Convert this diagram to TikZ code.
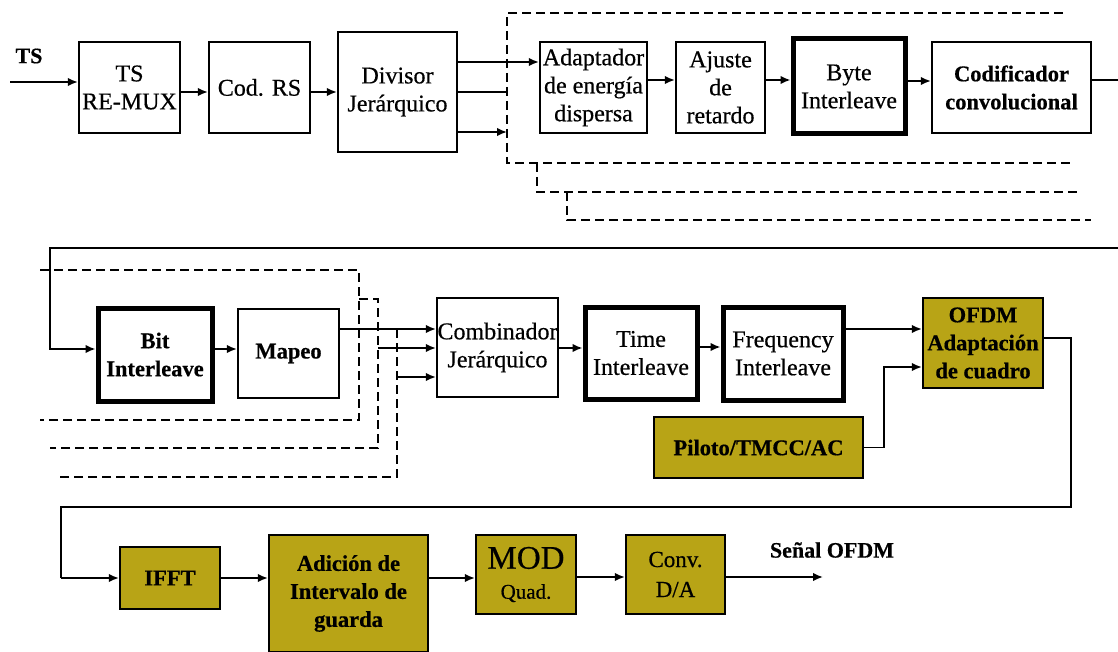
\documentclass[tikz,border=0pt]{standalone}
\usepackage{fontspec}
\setmainfont{Liberation Serif}[FakeBold=0.5]
\usetikzlibrary{arrows.meta}
\definecolor{gold}{RGB}{184,164,22}

\begin{document}
\begin{tikzpicture}[x=1pt,y=-1pt,
  box/.style={draw, line width=2.2pt, inner sep=0pt, align=center,
              font=\fontsize{24}{28}\selectfont},
  boldbox/.style={box, font=\bfseries\fontsize{22.5}{28}\selectfont},
  heavy/.style={line width=5pt},
  goldbox/.style={boldbox, fill=gold},
  conn/.style={line width=1.8pt},
  arr/.style={conn, -{Latex[length=10pt,width=8.5pt]}},
  dsh/.style={line width=2pt, dash pattern=on 9pt off 5pt},
  lbl/.style={inner sep=0pt, font=\bfseries\fontsize{22}{26}\selectfont},
]
\useasboundingbox (0,0) rectangle (1118,652);

% ---- first stage: multiplexing and outer coding
\node[lbl] (tslabel) at (29,56) {TS};
\node[box, minimum width=101pt, minimum height=91pt] (remux) at (129.5,87.5) {TS\\RE-MUX};
\node[box, minimum width=101pt, minimum height=91pt] (codrs) at (259.5,87.5) {Cod. RS};
\node[box, minimum width=119pt, minimum height=120pt] (divisor) at (397.5,92) {Divisor\\Jerárquico};

\node[box, minimum width=107pt, minimum height=91pt] (adapt) at (593.5,87.5) {Adaptador\\de energía\\dispersa};
\node[box, minimum width=89pt, minimum height=91pt] (ajuste) at (720.5,87.5) {Ajuste\\de\\retardo};
\node[box, heavy, minimum width=112pt, minimum height=95pt] (byte) at (849,86.5) {Byte\\Interleave};
\node[boldbox, minimum width=159pt, minimum height=91pt] (codconv) at (1011.5,87.5) {Codificador\\convolucional};

\coordinate (tsin) at (10,82);
\coordinate (edgeA) at (1118,80);
\coordinate (edgeB) at (1118,248);

\draw[arr] (tsin) -- (tsin -| remux.west);
\draw[arr] (remux.east |- 0,92) -- (codrs.west |- 0,92);
\draw[arr] (codrs.east |- 0,92) -- (divisor.west |- 0,92);

% hierarchical layers leaving the divider
\draw[arr] (divisor.east |- 0,62) -- (adapt.west |- 0,62);
\draw[conn] (divisor.east |- 0,92) -- (507,92);
\draw[arr] (divisor.east |- 0,132) -- (507,132);

% layer frames (dashed)
\draw[dsh] (1063,13) -- (507,13) -- (507,163) -- (1072,163);
\draw[dsh] (537,163) -- (537,192) -- (1080,192);
\draw[dsh] (567,192) -- (567,220) -- (1091,220);

\draw[arr] (adapt.east |- 0,80) -- (ajuste.west |- 0,80);
\draw[arr] (ajuste.east |- 0,80) -- (byte.west |- 0,80);
\draw[arr] (byte.east |- 0,81) -- (codconv.west |- 0,81);
\draw[conn] (codconv.east |- 0,80) -- (edgeA);

% ---- second stage: interleaving and mapping
\node[boldbox, heavy, minimum width=114pt, minimum height=93pt] (bit) at (155,354.5) {Bit\\Interleave};
\node[boldbox, minimum width=101pt, minimum height=89pt] (mapeo) at (288.5,353.5) {Mapeo};
\node[box, minimum width=121pt, minimum height=99pt] (comb) at (497.5,347.5) {Combinador\\Jerárquico};
\node[box, heavy, minimum width=112pt, minimum height=92pt] (time) at (641,353) {Time\\Interleave};
\node[box, heavy, minimum width=120pt, minimum height=93pt] (freq) at (783,353.5) {Frequency\\Interleave};
\node[goldbox, minimum width=120pt, minimum height=90pt] (ofdm) at (983,343) {OFDM\\Adaptación\\de cuadro};
\node[goldbox, minimum width=209pt, minimum height=61pt] (piloto) at (758.5,447.5) {Piloto/TMCC/AC};

\draw[arr] (edgeB) -- (50,248) -- (50,349) -- (bit.west |- 0,349);
\draw[arr] (bit.east |- 0,349) -- (mapeo.west |- 0,349);

\draw[dsh] (40,270) -- (359,270) -- (359,420) -- (40,420);
\draw[dsh] (359,299) -- (378,299) -- (378,448) -- (50,448);
\draw[dsh] (397,329) -- (397,477) -- (60,477);

\draw[arr] (mapeo.east |- 0,329) -- (comb.west |- 0,329);
\draw[arr] (378,348) -- (comb.west |- 0,348);
\draw[arr] (397,377) -- (comb.west |- 0,377);

\draw[arr] (comb.east |- 0,348) -- (time.west |- 0,348);
\draw[arr] (time.east |- 0,347) -- (freq.west |- 0,347);
\draw[arr] (freq.east |- 0,329) -- (ofdm.west |- 0,329);
\draw[arr] (piloto.east) -- (884,447.5) -- (884,367) -- (ofdm.west |- 0,367);

% ---- third stage: OFDM signal generation
\node[goldbox, minimum width=100pt, minimum height=62pt] (ifft) at (170,578) {IFFT};
\node[goldbox, minimum width=159pt, minimum height=117pt] (adicion) at (348.5,593.5) {Adición de\\Intervalo de\\guarda};
\node[box, fill=gold, minimum width=100pt, minimum height=79pt, font=\fontsize{21}{30}\selectfont] (mod) at (526,574.5)
  {{\fontsize{33}{33}\selectfont MOD}\\Quad.};
\node[box, fill=gold, minimum width=99pt, minimum height=79pt, font=\fontsize{23}{30}\selectfont] (conv) at (675.5,574.5) {Conv.\\D/A};

\draw[conn] (ofdm.east |- 0,338) -- (1071,338) -- (1071,507) -- (61,507) -- (61,578);
\draw[arr] (61,578) -- (ifft.west |- 0,578);
\draw[arr] (ifft.east |- 0,578) -- (adicion.west |- 0,578);
\draw[arr] (adicion.east |- 0,578) -- (mod.west |- 0,578);
\draw[arr] (mod.east |- 0,577) -- (conv.west |- 0,577);

\coordinate (out) at (823,577);
\draw[arr] (conv.east |- out) -- (out);
\node[lbl] (senal) at (832,550) {Señal OFDM};
\end{tikzpicture}
\end{document}
